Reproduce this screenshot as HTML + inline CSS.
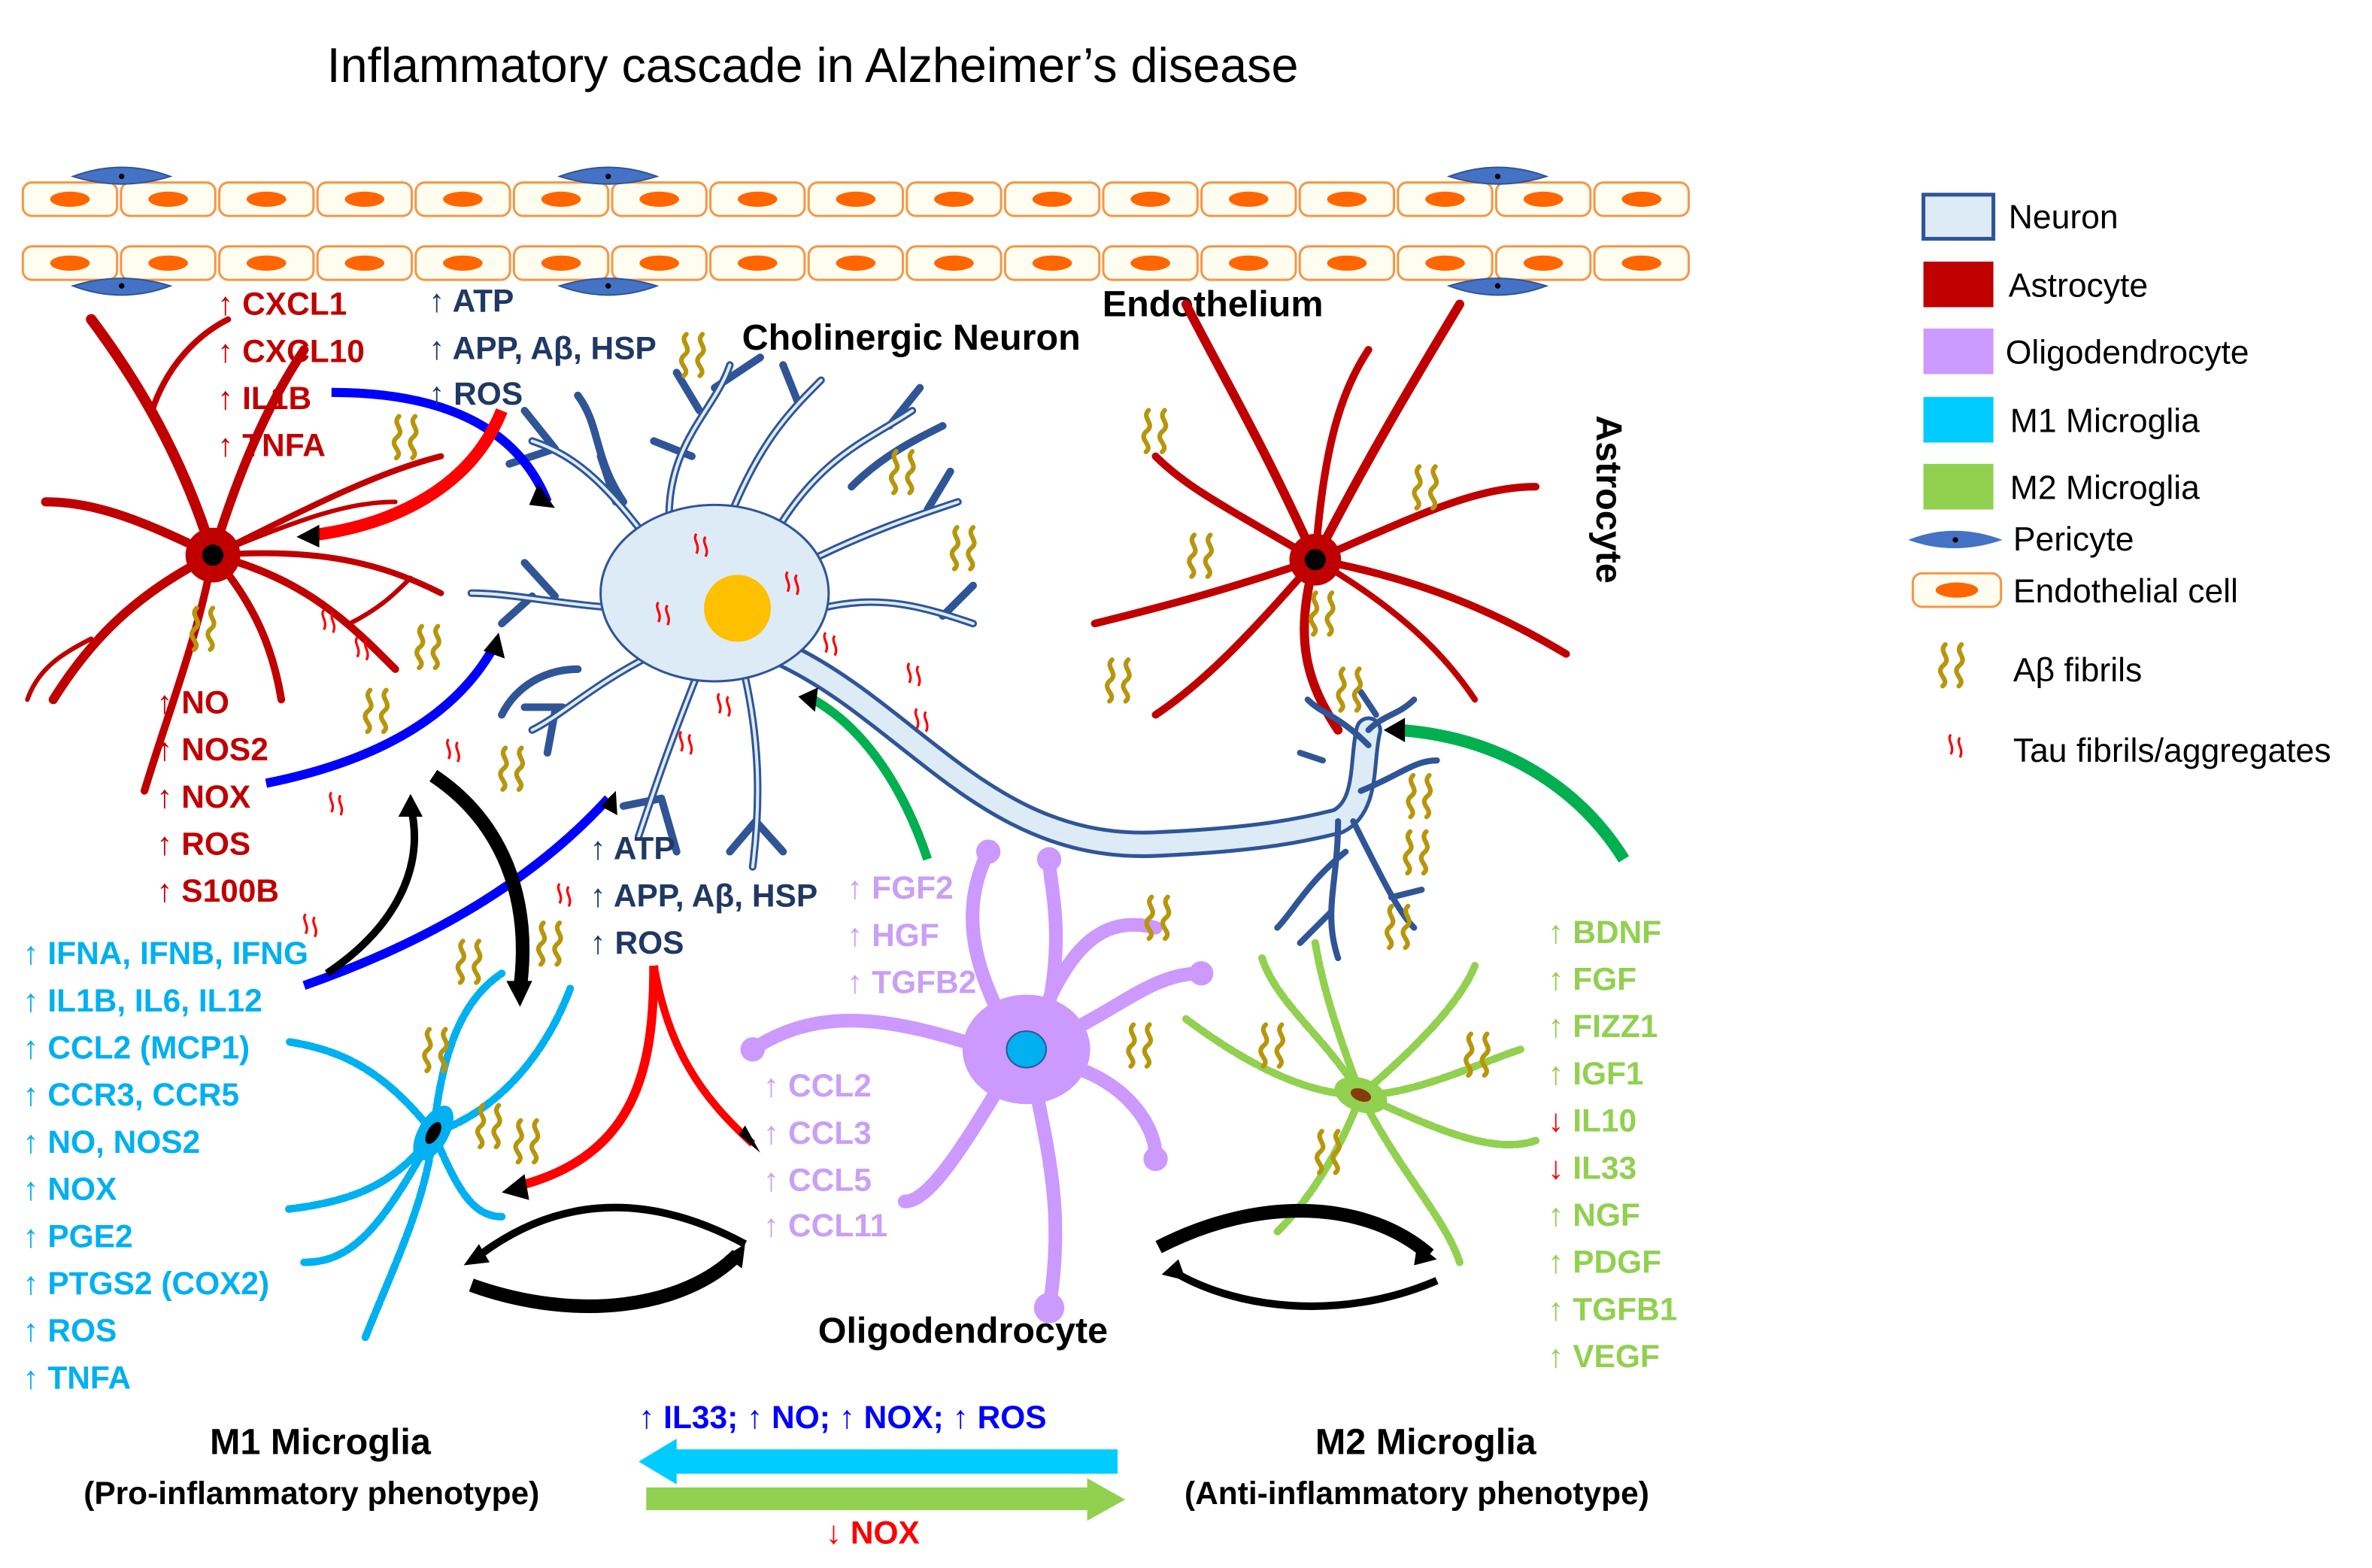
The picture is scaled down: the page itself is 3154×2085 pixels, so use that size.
<!DOCTYPE html>
<html><head><meta charset="utf-8"><style>
html,body{margin:0;padding:0;background:#fff}
svg{display:block}
text{font-family:"Liberation Sans",sans-serif;font-weight:bold}
text.n{font-weight:normal}
</style></head><body>
<svg id="s" width="3154" height="2085" viewBox="0 0 1560 1031" preserveAspectRatio="none" xmlns="http://www.w3.org/2000/svg">
<defs>
<symbol id="ab" viewBox="0 0 40 34" overflow="visible">
<path d="M8 2 C2 8,14 12,6 18 C0 24,12 28,6 33" fill="none" stroke="#b8960c" stroke-width="3.5" stroke-linecap="round"/>
<path d="M20 2 C14 8,26 12,18 18 C12 24,24 28,18 33" fill="none" stroke="#b8960c" stroke-width="3.5" stroke-linecap="round"/>
</symbol>
<symbol id="tau" viewBox="0 0 16 16" overflow="visible">
<path d="M3 1 C0 5,6 8,3 14 M9 3 C6 7,12 10,9 16" fill="none" stroke="#ff0000" stroke-width="1.6"/>
</symbol>
</defs>
<text x="215" y="54" font-size="32" class="n" fill="#000">Inflammatory cascade in Alzheimer’s disease</text>
<g id="endo"></g>
<g fill="#4472c4" stroke="#2f5597">
<path d="M48 116 Q80 104 112 116 Q80 126 48 116Z"/><path d="M368 116 Q400 104 432 116 Q400 126 368 116Z"/><path d="M953 116 Q985 104 1017 116 Q985 126 953 116Z"/>
<path d="M48 188 Q80 178 112 188 Q80 200 48 188Z"/><path d="M368 188 Q400 178 432 188 Q400 200 368 188Z"/><path d="M953 188 Q985 178 1017 188 Q985 200 953 188Z"/>
</g>
<g fill="#000"><circle cx="80" cy="116" r="1.8"/><circle cx="400" cy="116" r="1.8"/><circle cx="985" cy="116" r="1.8"/><circle cx="80" cy="188" r="1.8"/><circle cx="400" cy="188" r="1.8"/><circle cx="985" cy="188" r="1.8"/></g>
<text x="725" y="208" font-size="24" fill="#000">Endothelium</text>
<text x="488" y="230" font-size="24" fill="#000">Cholinergic Neuron</text>
<text transform="translate(1050,273) rotate(90)" font-size="24" fill="#000">Astrocyte</text>

<!-- left astrocyte -->
<g stroke="#c00000" fill="none" stroke-linecap="round">
<path d="M140 365 C120 300 90 250 60 210" stroke-width="7"/>
<path d="M100 270 C110 240 130 220 150 210" stroke-width="4"/>
<path d="M140 365 C160 300 180 260 200 230" stroke-width="6"/>
<path d="M140 365 C90 340 60 330 30 330" stroke-width="6"/>
<path d="M140 365 C90 390 60 420 35 460" stroke-width="6"/>
<path d="M60 420 C40 430 25 440 18 460" stroke-width="3"/>
<path d="M140 365 C130 420 110 470 95 520" stroke-width="5"/>
<path d="M140 365 C170 400 180 430 185 460" stroke-width="5"/>
<path d="M140 365 C200 380 230 410 260 440" stroke-width="5"/>
<path d="M140 365 C210 360 250 370 290 390" stroke-width="4"/>
<path d="M140 365 C210 330 250 310 290 300" stroke-width="4"/>
<path d="M140 365 C200 340 230 330 260 330" stroke-width="3"/>
<path d="M230 410 C250 400 260 390 270 380" stroke-width="3"/>
</g>
<circle cx="140" cy="365" r="18" fill="#c00000"/><circle cx="140" cy="365" r="7" fill="#000"/>

<!-- right astrocyte -->
<g stroke="#c00000" fill="none" stroke-linecap="round">
<path d="M865 368 C830 290 800 240 780 200" stroke-width="6"/>
<path d="M865 368 C870 300 880 260 900 230" stroke-width="5"/>
<path d="M865 368 C900 300 930 250 960 200" stroke-width="6"/>
<path d="M865 368 C800 330 780 320 760 300" stroke-width="5"/>
<path d="M865 368 C800 390 760 400 720 410" stroke-width="5"/>
<path d="M865 368 C820 420 790 450 760 470" stroke-width="5"/>
<path d="M865 368 C850 420 860 450 880 480" stroke-width="6"/>
<path d="M865 368 C930 380 980 400 1030 430" stroke-width="5"/>
<path d="M865 368 C930 340 970 320 1010 320" stroke-width="5"/>
<path d="M865 368 C920 400 950 430 970 460" stroke-width="4"/>
</g>
<circle cx="865" cy="368" r="17" fill="#c00000"/><circle cx="865" cy="368" r="7" fill="#000"/>

<!-- neuron dendrites -->
<g id="dend" fill="none" stroke-linecap="round">
<path id="dp" d="M430 360 C400 320 380 300 350 290 M410 330 C390 300 395 280 380 260 M440 340 C440 290 470 270 480 240 M480 340 C500 290 520 270 540 250 M510 350 C540 300 570 290 600 270 M530 370 C570 350 600 340 630 330 M540 400 C580 390 610 400 640 410 M430 430 C390 450 370 470 350 480 M420 400 C380 400 340 390 310 390 M460 440 C440 490 430 520 420 550 M490 445 C500 490 500 530 495 570 M380 440 C360 440 340 450 330 470 M560 320 C580 300 600 290 620 280 M365 295 L345 270 M365 295 L335 305 M460 270 L445 245 M470 255 L500 235 M525 265 L515 240 M585 280 L605 255 M610 335 L625 310 M620 405 L640 385 M365 392 L345 370 M350 392 L330 410 M370 465 L345 465 M365 468 L360 495 M435 525 L410 530 M435 525 L445 560 M497 540 L515 560 M497 540 L480 560 M395 300 L405 330 M455 300 L430 290" stroke="#2f5597" stroke-width="5"/>
<path d="M430 360 C400 320 380 300 350 290 M440 340 C440 290 470 270 480 240 M480 340 C500 290 520 270 540 250 M510 350 C540 300 570 290 600 270 M530 370 C570 350 600 340 630 330 M540 400 C580 390 610 400 640 410 M430 430 C390 450 370 470 350 480 M420 400 C380 400 340 390 310 390 M460 440 C440 490 430 520 420 550 M490 445 C500 490 500 530 495 570" stroke="#ddebf7" stroke-width="2"/>
</g>
<path d="M515 430 C600 470 650 560 760 555 C830 552 860 545 880 540 C900 530 895 500 900 480" fill="none" stroke="#2f5597" stroke-width="18" stroke-linecap="round"/>
<path d="M515 430 C600 470 650 560 760 555 C830 552 860 545 880 540 C900 530 895 500 900 480" fill="none" stroke="#ddebf7" stroke-width="13" stroke-linecap="round"/>
<g stroke="#2f5597" fill="none" stroke-width="4" stroke-linecap="round">
<path d="M880 540 C880 580 870 600 880 630 M890 540 C910 580 920 600 930 610 M900 480 C910 470 920 470 930 460 M900 490 C880 470 870 470 860 460 M895 520 C920 510 930 500 945 500 M885 560 C860 580 850 600 840 610 M875 600 L855 620 M915 590 L935 585 M870 500 L855 495 M905 470 L895 455"/>
</g>
<ellipse cx="470" cy="390" rx="75" ry="58" fill="#ddebf7" stroke="#2f5597" stroke-width="1.5"/>
<circle cx="485" cy="400" r="22" fill="#ffc000"/>

<!-- oligodendrocyte -->
<g stroke="#cc99ff" fill="none" stroke-linecap="round" stroke-width="9">
<path d="M670 690 C640 640 630 600 650 560 M680 680 C700 630 720 600 760 610 M700 680 C740 660 760 640 790 640 M700 700 C740 710 760 740 760 760 M680 710 C690 760 700 800 690 860 M660 710 C630 760 610 790 595 790 M650 690 C590 670 540 660 495 690 M690 660 C700 610 690 580 690 565"/>
</g>
<g fill="#cc99ff"><circle cx="690" cy="860" r="10"/><circle cx="760" cy="762" r="8"/><circle cx="495" cy="690" r="8"/><circle cx="650" cy="560" r="8"/><circle cx="690" cy="565" r="8"/><circle cx="790" cy="640" r="8"/></g>
<ellipse cx="675" cy="690" rx="42" ry="36" fill="#cc99ff"/>
<ellipse cx="675" cy="690" rx="13" ry="12" fill="#00b0f0" stroke="#2f5597"/>

<!-- M1 microglia -->
<g stroke="#00b0f0" fill="none" stroke-linecap="round" stroke-width="5" stroke-dasharray="7 2">
<path d="M285 745 C290 700 300 660 330 640 M285 745 C250 700 220 690 190 685 M285 745 C330 730 360 690 375 650 M285 745 C260 780 230 790 190 795 M285 745 C280 790 260 830 240 880 M285 745 C300 780 310 800 330 800 M285 745 C250 810 230 830 200 830"/>
</g>
<ellipse cx="285" cy="745" rx="10" ry="20" fill="#00b0f0" transform="rotate(30 285 745)"/><ellipse cx="285" cy="745" rx="4" ry="8" fill="#000" transform="rotate(30 285 745)"/>
<!-- M2 microglia -->
<g stroke="#92d050" fill="none" stroke-linecap="round" stroke-width="5" stroke-dasharray="7 2">
<path d="M895 720 C870 680 840 660 830 630 M895 720 C880 680 870 650 865 620 M895 720 C930 690 960 660 970 635 M895 720 C860 720 820 700 780 670 M895 720 C940 740 980 760 1010 750 M895 720 C880 760 860 790 840 810 M895 720 C920 770 950 800 960 830 M895 720 C930 720 970 700 1000 690"/>
</g>
<ellipse cx="895" cy="720" rx="18" ry="11" fill="#92d050" transform="rotate(20 895 720)"/><ellipse cx="895" cy="720" rx="7" ry="4" fill="#843c0c" transform="rotate(20 895 720)"/>

<!-- fibrils -->
<g>
<use href="#ab" x="255" y="272" width="36" height="30"/><use href="#ab" x="444" y="218" width="36" height="30"/>
<use href="#ab" x="582" y="295" width="36" height="30"/><use href="#ab" x="622" y="345" width="36" height="30"/>
<use href="#ab" x="748" y="268" width="36" height="30"/><use href="#ab" x="926" y="305" width="36" height="30"/>
<use href="#ab" x="778" y="350" width="36" height="30"/><use href="#ab" x="858" y="388" width="36" height="30"/>
<use href="#ab" x="724" y="432" width="36" height="30"/><use href="#ab" x="876" y="438" width="36" height="30"/>
<use href="#ab" x="922" y="508" width="36" height="30"/><use href="#ab" x="920" y="545" width="36" height="30"/>
<use href="#ab" x="908" y="594" width="36" height="30"/><use href="#ab" x="750" y="588" width="36" height="30"/>
<use href="#ab" x="738" y="672" width="36" height="30"/><use href="#ab" x="122" y="398" width="36" height="30"/>
<use href="#ab" x="270" y="410" width="36" height="30"/><use href="#ab" x="236" y="452" width="36" height="30"/>
<use href="#ab" x="325" y="490" width="36" height="30"/><use href="#ab" x="297" y="617" width="36" height="30"/>
<use href="#ab" x="350" y="605" width="36" height="30"/><use href="#ab" x="275" y="675" width="36" height="30"/>
<use href="#ab" x="310" y="725" width="36" height="30"/><use href="#ab" x="335" y="735" width="36" height="30"/>
<use href="#ab" x="825" y="672" width="36" height="30"/><use href="#ab" x="960" y="678" width="36" height="30"/>
<use href="#ab" x="862" y="742" width="36" height="30"/>
</g>
<g>
<use href="#tau" x="210" y="400" width="16" height="16"/><use href="#tau" x="232" y="418" width="16" height="16"/>
<use href="#tau" x="292" y="485" width="16" height="16"/><use href="#tau" x="215" y="520" width="16" height="16"/>
<use href="#tau" x="365" y="580" width="16" height="16"/><use href="#tau" x="198" y="600" width="16" height="16"/>
<use href="#tau" x="430" y="395" width="16" height="16"/><use href="#tau" x="455" y="350" width="16" height="16"/>
<use href="#tau" x="515" y="375" width="16" height="16"/><use href="#tau" x="540" y="415" width="16" height="16"/>
<use href="#tau" x="470" y="455" width="16" height="16"/><use href="#tau" x="595" y="435" width="16" height="16"/>
<use href="#tau" x="600" y="465" width="16" height="16"/><use href="#tau" x="445" y="480" width="16" height="16"/>
</g>

<!-- connectors -->
<path d="M218 258 C290 258 340 280 360 330" fill="none" stroke="#0000ff" stroke-width="6"/>
<path d="M354 318 L365 334 L348 332Z" fill="#000"/>
<path d="M330 270 C310 320 260 345 205 352" fill="none" stroke="#ff0000" stroke-width="8"/>
<path d="M210 345 L195 353 L210 360Z" fill="#000"/>
<path d="M175 515 C250 500 300 470 325 425" fill="none" stroke="#0000ff" stroke-width="6"/>
<path d="M318 428 L328 416 L332 433Z" fill="#000"/>
<path d="M200 648 C280 620 350 580 400 525" fill="none" stroke="#0000ff" stroke-width="6"/>
<path d="M395 530 L405 520 L406 536Z" fill="#000"/>
<path d="M215 640 C260 610 280 570 270 530" fill="none" stroke="#000" stroke-width="5"/>
<path d="M262 537 L270 522 L278 537Z" fill="#000"/>
<path d="M285 510 C330 540 350 590 342 650" fill="none" stroke="#000" stroke-width="9"/>
<path d="M333 645 L342 662 L350 645Z" fill="#000"/>
<path d="M430 635 C430 700 420 760 340 780" fill="none" stroke="#ff0000" stroke-width="6"/>
<path d="M345 772 L330 784 L348 789Z" fill="#000"/>
<path d="M430 635 C440 690 460 720 495 752" fill="none" stroke="#ff0000" stroke-width="5"/>
<path d="M486 746 L500 758 L490 740Z" fill="#000"/>
<path d="M610 565 C595 520 570 480 535 460" fill="none" stroke="#00b050" stroke-width="6"/>
<path d="M538 452 L525 458 L536 468Z" fill="#000"/>
<path d="M1068 565 C1040 520 990 485 920 480" fill="none" stroke="#00b050" stroke-width="8"/>
<path d="M924 472 L910 480 L924 488Z" fill="#000"/>
<path d="M490 818 C420 780 360 790 312 828" fill="none" stroke="#000" stroke-width="5"/>
<path d="M315 818 L305 832 L322 830Z" fill="#000"/>
<path d="M310 845 C380 870 450 860 485 825" fill="none" stroke="#000" stroke-width="9"/>
<path d="M477 826 L490 818 L488 834Z" fill="#000"/>
<path d="M762 820 C830 785 900 790 940 825" fill="none" stroke="#000" stroke-width="9"/>
<path d="M932 818 L945 828 L930 832Z" fill="#000"/>
<path d="M945 842 C880 870 810 860 770 835" fill="none" stroke="#000" stroke-width="5"/>
<path d="M775 828 L764 838 L780 842Z" fill="#000"/>
<path d="M735 953 L445 953 L445 946 L420 961 L445 976 L445 969 L735 969Z" fill="#00ccff"/>
<path d="M425 978 L715 978 L715 972 L740 986 L715 1000 L715 993 L425 993Z" fill="#92d050"/>

<!-- labels -->
<g font-size="21" fill="#c00000">
<text x="143" y="207">↑ CXCL1</text><text x="143" y="238">↑ CXCL10</text><text x="143" y="269">↑ IL1B</text><text x="143" y="300">↑ TNFA</text>
<text x="103" y="469">↑ NO</text><text x="103" y="500">↑ NOS2</text><text x="103" y="531">↑ NOX</text><text x="103" y="562">↑ ROS</text><text x="103" y="593">↑ S100B</text>
</g>
<g font-size="21" fill="#1f3864">
<text x="282" y="205">↑ ATP</text><text x="282" y="236">↑ APP, Aβ, HSP</text><text x="282" y="266">↑ ROS</text>
<text x="388" y="565">↑ ATP</text><text x="388" y="596">↑ APP, Aβ, HSP</text><text x="388" y="627">↑ ROS</text>
</g>
<g font-size="21" fill="#00b0f0">
<text x="15" y="634">↑ IFNA, IFNB, IFNG</text><text x="15" y="665">↑ IL1B, IL6, IL12</text><text x="15" y="696">↑ CCL2 (MCP1)</text><text x="15" y="727">↑ CCR3, CCR5</text><text x="15" y="758">↑ NO, NOS2</text><text x="15" y="789">↑ NOX</text><text x="15" y="820">↑ PGE2</text><text x="15" y="851">↑ PTGS2 (COX2)</text><text x="15" y="882">↑ ROS</text><text x="15" y="913">↑ TNFA</text>
</g>
<g font-size="21" fill="#c9a0f5">
<text x="557" y="591">↑ FGF2</text><text x="557" y="622">↑ HGF</text><text x="557" y="653">↑ TGFB2</text>
<text x="502" y="721">↑ CCL2</text><text x="502" y="752">↑ CCL3</text><text x="502" y="783">↑ CCL5</text><text x="502" y="813">↑ CCL11</text>
</g>
<g font-size="21" fill="#92d050">
<text x="1018" y="620">↑ BDNF</text><text x="1018" y="651">↑ FGF</text><text x="1018" y="682">↑ FIZZ1</text><text x="1018" y="713">↑ IGF1</text>
<text x="1018" y="744"><tspan fill="#ff0000">↓</tspan> IL10</text><text x="1018" y="775"><tspan fill="#ff0000">↓</tspan> IL33</text>
<text x="1018" y="806">↑ NGF</text><text x="1018" y="837">↑ PDGF</text><text x="1018" y="868">↑ TGFB1</text><text x="1018" y="899">↑ VEGF</text>
</g>
<text x="538" y="883" font-size="24" fill="#000">Oligodendrocyte</text>
<text x="138" y="956" font-size="24" fill="#000">M1 Microglia</text>
<text x="55" y="989" font-size="21" fill="#000">(Pro-inflammatory phenotype)</text>
<text x="865" y="956" font-size="24" fill="#000">M2 Microglia</text>
<text x="779" y="989" font-size="21" fill="#000">(Anti-inflammatory phenotype)</text>
<text x="420" y="939" font-size="21" fill="#0000ff">↑ IL33; ↑ NO; ↑ NOX; ↑ ROS</text>
<text x="543" y="1015" font-size="21" fill="#ff0000">↓ NOX</text>

<!-- legend -->
<rect x="1265" y="128" width="46" height="29" fill="#ddebf7" stroke="#2f5597" stroke-width="2.5"/>
<rect x="1265" y="172" width="46" height="30" fill="#c00000"/>
<rect x="1265" y="216" width="46" height="30" fill="#cc99ff"/>
<rect x="1265" y="261" width="46" height="30" fill="#00ccff"/>
<rect x="1265" y="305" width="46" height="30" fill="#92d050"/>
<path d="M1255 355 Q1285 343 1317 355 Q1285 366 1255 355Z" fill="#4472c4"/><circle cx="1286" cy="355" r="1.8" fill="#000"/>
<rect x="1258" y="377" width="58" height="22" rx="6" fill="#fffdf0" stroke="#f79646" stroke-width="1.5"/>
<ellipse cx="1287" cy="388" rx="14" ry="5" fill="#ff6600"/>
<use href="#ab" x="1272" y="422" width="36" height="30"/>
<use href="#tau" x="1280" y="482" width="16" height="16"/>
<g font-size="22" fill="#000">
<text class="n" x="1321" y="150">Neuron</text><text class="n" x="1321" y="195">Astrocyte</text><text class="n" x="1319" y="239">Oligodendrocyte</text><text class="n" x="1322" y="284">M1 Microglia</text><text class="n" x="1322" y="328">M2 Microglia</text><text class="n" x="1324" y="362">Pericyte</text><text class="n" x="1324" y="396">Endothelial cell</text><text class="n" x="1324" y="448">Aβ fibrils</text><text class="n" x="1324" y="501">Tau fibrils/aggregates</text>
</g>
</svg>
<script>
var g=document.getElementById('endo'),ns='http://www.w3.org/2000/svg';
[120,162].forEach(function(y){for(var i=0;i<17;i++){var x=15+i*64.6;
var r=document.createElementNS(ns,'rect');r.setAttribute('x',x);r.setAttribute('y',y);r.setAttribute('width',62);r.setAttribute('height',22);r.setAttribute('rx',6);r.setAttribute('fill','#fffdf0');r.setAttribute('stroke','#f79646');r.setAttribute('stroke-width','1.5');g.appendChild(r);
var e=document.createElementNS(ns,'ellipse');e.setAttribute('cx',x+31);e.setAttribute('cy',y+11);e.setAttribute('rx',13);e.setAttribute('ry',5);e.setAttribute('fill','#ff6600');g.appendChild(e);}});
</script>
</body></html>
